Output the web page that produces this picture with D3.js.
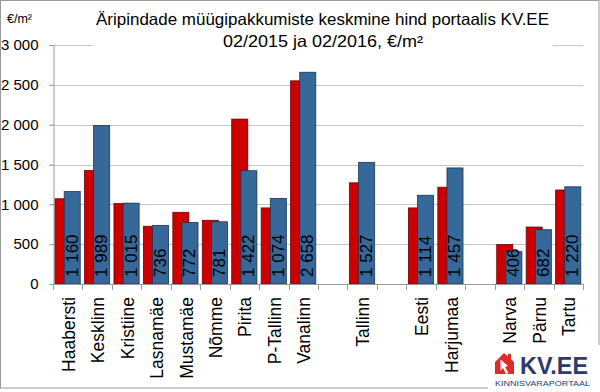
<!DOCTYPE html>
<html>
<head>
<meta charset="utf-8">
<script src="https://cdn.jsdelivr.net/npm/d3@7"></script>
<style>
  html, body { margin: 0; padding: 0; background: #fff; }
  svg { display: block; font-family: "Liberation Sans", Arial, sans-serif; }
</style>
</head>
<body>
<div id="chart"></div>
<script>
// ---- data ----
const categories = ["Haabersti", "Kesklinn", "Kristiine", "Lasnamäe", "Mustamäe", "Nõmme", "Pirita", "P-Tallinn", "Vanalinn", "", "Tallinn", "", "Eesti", "Harjumaa", "", "Narva", "Pärnu", "Tartu"];
const values2015 = [1070, 1425, 1010, 725, 900, 800, 2070, 955, 2550, null, 1270, null, 955, 1215, null, 495, 715, 1180];
const values2016 = [1160, 1989, 1015, 736, 772, 781, 1422, 1074, 2658, null, 1527, null, 1114, 1457, null, 406, 682, 1220];
const yTicks = [0, 500, 1000, 1500, 2000, 2500, 3000];
const titleLines = ["Äripindade müügipakkumiste keskmine hind portaalis KV.EE", "02/2015 ja 02/2016, €/m²"];
const unitLabel = "€/m²";

(function () {
// ---- layout ----
const W = 600, H = 392;
const pLeft = 53, pRight = 583, pTop = 45, pBottom = 284;
const red = "#cc0000", redStroke = "#6e0000";
const blue = "#36689a", blueStroke = "#1c3550";

const locale = d3.formatLocale({decimal: ",", thousands: " ", grouping: [3], currency: ["", " €"]});
const fmt = locale.format(",d");

const svg = d3.select("#chart").append("svg").attr("width", W).attr("height", H);
svg.append("rect").attr("width", W).attr("height", H).attr("fill", "#fff");

// chart border
svg.append("rect").attr("x", 0.5).attr("y", 0.5).attr("width", W - 1.5).attr("height", 387.5)
  .attr("fill", "none").attr("stroke", "#9a9a9a").attr("stroke-width", 1);

const x = d3.scaleBand().domain(d3.range(categories.length)).range([pLeft, pRight]).padding(0);
const y = d3.scaleLinear().domain([0, 3000]).range([pBottom, pTop]);

// gridlines
svg.append("g").selectAll("line").data(yTicks.filter(d => d > 0)).join("line")
  .attr("x1", pLeft - 4).attr("x2", pRight)
  .attr("y1", d => Math.round(y(d)) + 0.5).attr("y2", d => Math.round(y(d)) + 0.5)
  .attr("stroke", "#c6c6c6").attr("stroke-width", 1.2);

// title background (covers top gridline)
svg.append("rect").attr("x", 93).attr("y", 6).attr("width", 460).attr("height", 50).attr("fill", "#fff");

// y axis
const yAxis = svg.append("g").attr("transform", `translate(${pLeft + 0.5},0)`)
  .call(d3.axisLeft(y).tickValues(yTicks).tickFormat(fmt).tickSize(4).tickPadding(11));
yAxis.select(".domain").attr("stroke", "#9a9a9a");
yAxis.selectAll(".tick line").attr("stroke", "#9a9a9a");
yAxis.selectAll("text").attr("font-size", 15).attr("fill", "#000")
  .attr("font-family", "'Liberation Sans', Arial, sans-serif");

// bars
const bw = x.bandwidth();
const barW = bw * 0.545;
const idx = d3.range(categories.length).filter(i => values2016[i] != null);

svg.append("g").selectAll("rect").data(idx).join("rect")
  .attr("x", i => x(i) + bw * 0.5 - bw * 0.43)
  .attr("y", i => y(values2015[i]))
  .attr("width", barW)
  .attr("height", i => pBottom - y(values2015[i]))
  .attr("fill", red).attr("stroke", redStroke).attr("stroke-width", 0.8);

svg.append("g").selectAll("rect").data(idx).join("rect")
  .attr("x", i => x(i) + bw * 0.5 - bw * 0.12)
  .attr("y", i => y(values2016[i]))
  .attr("width", barW)
  .attr("height", i => pBottom - y(values2016[i]))
  .attr("fill", blue).attr("stroke", blueStroke).attr("stroke-width", 0.8);

// x axis
const xAxisG = svg.append("g");
xAxisG.append("line").attr("x1", pLeft).attr("x2", pRight).attr("y1", pBottom + 0.5).attr("y2", pBottom + 0.5)
  .attr("stroke", "#9a9a9a");
xAxisG.selectAll("line.tk").data(d3.range(categories.length + 1)).join("line").attr("class", "tk")
  .attr("x1", i => Math.round(pLeft + i * bw) + 0.5).attr("x2", i => Math.round(pLeft + i * bw) + 0.5)
  .attr("y1", pBottom).attr("y2", pBottom + 6).attr("stroke", "#9a9a9a");

// value labels inside blue bars
svg.append("g").selectAll("text").data(idx).join("text")
  .attr("transform", i => `translate(${x(i) + bw * 0.5 - bw * 0.12 + barW / 2},${pBottom - 7}) rotate(-90)`)
  .attr("text-anchor", "start").attr("dominant-baseline", "central")
  .attr("font-size", 17).attr("fill", "#000")
  .text(i => fmt(values2016[i]));

// category labels
svg.append("g").selectAll("text").data(d3.range(categories.length)).join("text")
  .attr("transform", i => `translate(${x(i) + bw / 2 + 1},${pBottom + 13}) rotate(-90)`)
  .attr("text-anchor", "end").attr("dominant-baseline", "central")
  .attr("font-size", 17.5).attr("fill", "#000")
  .text(i => categories[i]);

// title
svg.append("text").attr("x", 322.5).attr("y", 24.5).attr("text-anchor", "middle")
  .attr("font-size", 16.5).attr("textLength", 453).attr("lengthAdjust", "spacingAndGlyphs")
  .attr("fill", "#000").text(titleLines[0]);
svg.append("text").attr("x", 323).attr("y", 47).attr("text-anchor", "middle")
  .attr("font-size", 16.5).attr("textLength", 200).attr("lengthAdjust", "spacingAndGlyphs")
  .attr("fill", "#000").text(titleLines[1]);

// unit label
svg.append("text").attr("x", 7).attr("y", 23).attr("font-size", 12.5).attr("fill", "#000")
  .text(unitLabel);

// logo
const logo = svg.append("g");
logo.append("rect").attr("x", 488).attr("y", 345).attr("width", 112).attr("height", 47).attr("fill", "#fff");
logo.append("path")
  .attr("d", "M504,353 L508,356.5 L508,354 L511,354 L511,359 L514,362 L514,374 L495,374 L495,362 Z")
  .attr("fill", "#df2a2a");
logo.append("path")
  .attr("d", "M500.5,359.5 L508,366 L505,367 L508.5,373 L506,374 L503,368 L500.5,370.5 Z")
  .attr("fill", "#fff");
logo.append("text").attr("x", 520).attr("y", 373.5).attr("font-size", 23).attr("font-weight", "bold")
  .attr("fill", "#2d3a6e").attr("textLength", 68).attr("lengthAdjust", "spacingAndGlyphs").text("KV.EE");
logo.append("text").attr("x", 495).attr("y", 386).attr("font-size", 7.5)
  .attr("fill", "#2d3a6e").attr("textLength", 95).attr("lengthAdjust", "spacingAndGlyphs").text("KINNISVARAPORTAAL");
})();
</script>
</body>
</html>
